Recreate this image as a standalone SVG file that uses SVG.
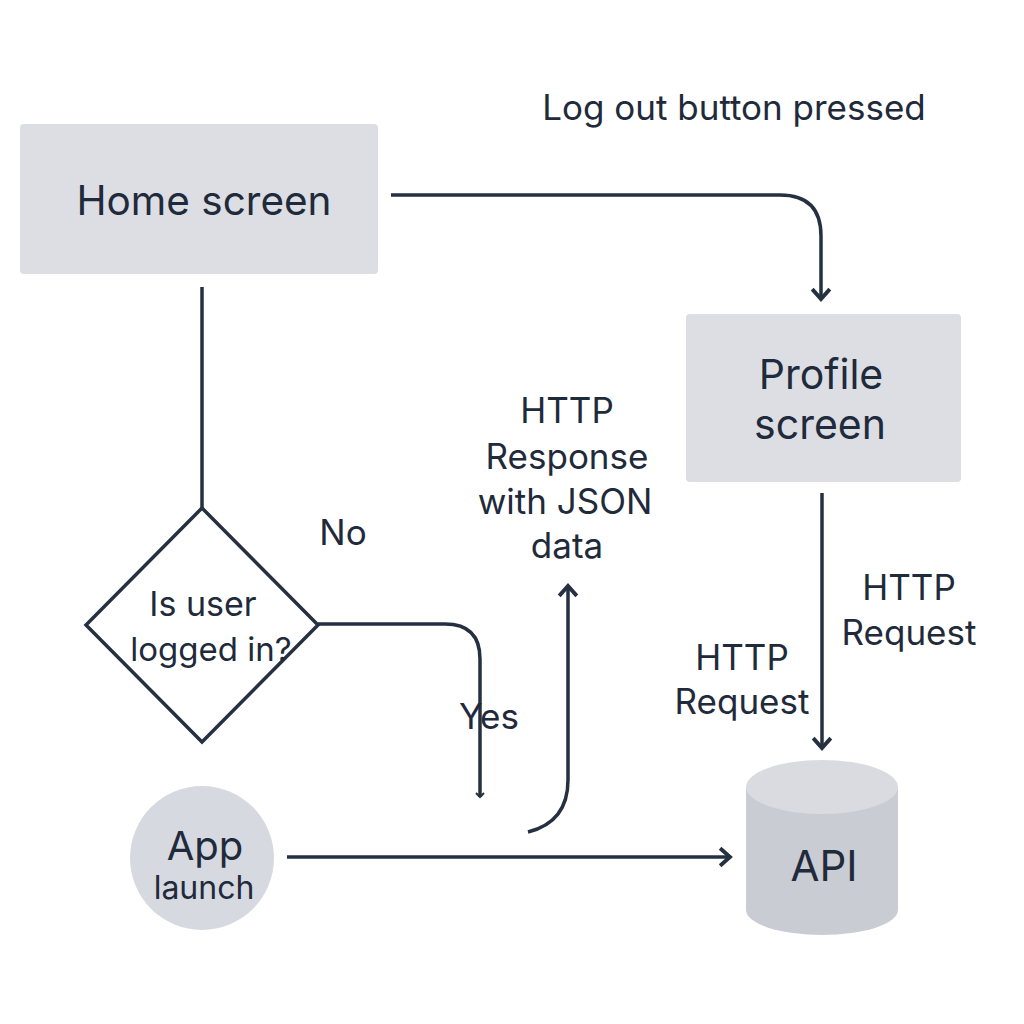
<svg xmlns="http://www.w3.org/2000/svg" width="1024" height="1024" viewBox="0 0 1024 1024">
<defs>
<style>
.t{font-family:Inter,"Liberation Sans",sans-serif;fill:#1f2a3b;text-anchor:middle}
.ln{fill:none;stroke:#253041;stroke-width:3.5;stroke-linecap:butt}
.box{fill:#dcdee3}
</style>
<marker id="ah" viewBox="0 0 20 20" refX="14" refY="10" markerWidth="22" markerHeight="22" markerUnits="userSpaceOnUse" orient="auto">
<path d="M5,2 L14,10 L5,18" fill="none" stroke="#253041" stroke-width="3.5"/>
</marker>
<marker id="ahs" viewBox="0 0 10 10" refX="8" refY="5" markerWidth="10" markerHeight="10" markerUnits="userSpaceOnUse" orient="auto">
<path d="M4,1 L8,5 L4,9" fill="none" stroke="#253041" stroke-width="2"/>
</marker>
</defs>
<rect width="1024" height="1024" fill="#ffffff"/>
<g id="connectors">
<path class="ln" d="M391,195 H780 Q821,195 821,236 V299" marker-end="url(#ah)"/>
<path class="ln" d="M202,287 V508"/>
<path class="ln" d="M318,624 H445 Q480,624 480,659 V797" marker-end="url(#ahs)"/>
<path class="ln" d="M528,832 Q568,822 568,780 V586" marker-end="url(#ah)"/>
<path class="ln" d="M822,493 V748" marker-end="url(#ah)"/>
<path class="ln" d="M287,857 H730" marker-end="url(#ah)"/>
<text class="t" x="734" y="120" font-size="35">Log out button pressed</text>
<text class="t" x="343" y="545" font-size="35">No</text>
<text class="t" x="489" y="729" font-size="35">Yes</text>
<text class="t" x="567" y="423" font-size="35">HTTP</text>
<text class="t" x="567" y="469" font-size="35">Response</text>
<text class="t" x="565" y="514" font-size="35">with JSON</text>
<text class="t" x="567" y="558" font-size="35">data</text>
<text class="t" x="742" y="670" font-size="35">HTTP</text>
<text class="t" x="742" y="714" font-size="35">Request</text>
<text class="t" x="909" y="600" font-size="35">HTTP</text>
<text class="t" x="909" y="645" font-size="35">Request</text>
</g>
<g id="home">
<rect class="box" x="20" y="124" width="358" height="150" rx="4"/>
<text class="t" x="204" y="215" font-size="40.5">Home screen</text>
</g>
<g id="profile">
<rect class="box" x="686" y="314" width="275" height="168" rx="4"/>
<text class="t" x="821" y="389" font-size="41">Profile</text>
<text class="t" x="820" y="439" font-size="41">screen</text>
</g>
<g id="decision">
<path d="M202,508 L318,625 L202,742 L86,625 Z" fill="#ffffff" stroke="#253041" stroke-width="3.5"/>
<text class="t" x="203" y="616" font-size="34">Is user</text>
<text class="t" x="211" y="661" font-size="33">logged in?</text>
</g>
<g id="app">
<circle cx="202" cy="858" r="72" fill="#d6d9df"/>
<text class="t" x="205" y="860" font-size="40">App</text>
<text class="t" x="204" y="899" font-size="32">launch</text>
</g>
<g id="api">
<path d="M746,787 V910 A76,25 0 0 0 898,910 V787 Z" fill="#c9ccd3"/>
<ellipse cx="822" cy="787" rx="76" ry="27" fill="#d9dbe0"/>
<text class="t" x="824" y="881" font-size="42">API</text>
</g>
</svg>
